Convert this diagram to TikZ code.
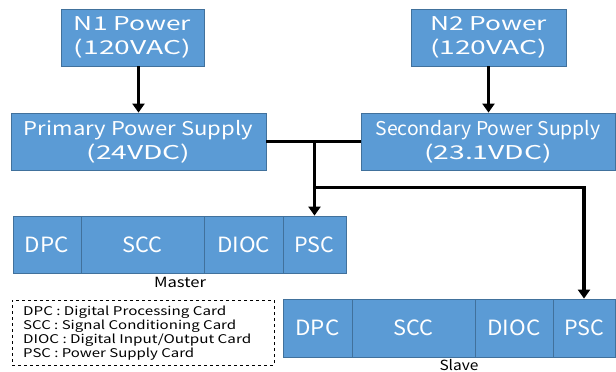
\documentclass[tikz,border=0pt]{standalone}
\usepackage{fontspec}
\usepackage{graphicx}
\setmainfont{Noto Sans CJK KR}
\usetikzlibrary{arrows.meta,calc}
\definecolor{boxblue}{HTML}{5B9BD5}
\definecolor{boxline}{HTML}{41719C}
\newcommand\fitw[2]{\resizebox{#1}{\height}{#2}}
\tikzset{
  blk/.style={draw=boxline,line width=0.8pt,fill=boxblue,text=white,inner sep=0pt,align=center,font=\fontsize{19}{24}\selectfont},
  card/.style={draw=boxline,line width=0.8pt,fill=boxblue,text=white,inner sep=0pt,font=\fontsize{21}{24}\selectfont},
  arr/.style={line width=3.3pt,-{Triangle[width=12pt,length=9pt]}},
  wire/.style={line width=3.3pt},
}
\begin{document}
\begin{tikzpicture}[x=1pt,y=-1pt]
\useasboundingbox (0,0) rectangle (616,372);
% power sources
\node[blk,minimum width=143pt,minimum height=57pt] (N1) at (132.5,37.5) {\fitw{117pt}{N1 Power}\\\fitw{117pt}{(120VAC)}};
\node[blk,minimum width=155pt,minimum height=57pt] (N2) at (488.5,37.5) {\fitw{117pt}{N2 Power}\\\fitw{117pt}{(120VAC)}};
% supplies
\node[blk,minimum width=255pt,minimum height=57pt] (P) at (138.5,141.5) {\fitw{229pt}{Primary Power Supply}\\\fitw{104pt}{(24VDC)}};
\node[blk,minimum width=254pt,minimum height=57pt] (S) at (488,141.5) {\fitw{225pt}{Secondary Power Supply}\\\fitw{128pt}{(23.1VDC)}};
% master cards
\node[card,minimum width=68pt,minimum height=57pt] (mDPC) at (47,244.5) {\fitw{44pt}{DPC}};
\node[card,minimum width=123pt,minimum height=57pt] (mSCC) at (142.5,244.5) {\fitw{40pt}{SCC}};
\node[card,minimum width=79pt,minimum height=57pt] (mDIOC) at (243.5,244.5) {\fitw{53pt}{DIOC}};
\node[card,minimum width=63pt,minimum height=57pt] (mPSC) at (314.5,244.5) {\fitw{40pt}{PSC}};
\node[font=\fontsize{14}{16}\selectfont,inner sep=0pt] (mlab) at (180,282) {\fitw{52pt}{Master}};
% slave cards
\node[card,minimum width=69pt,minimum height=58pt] (sDPC) at (317.5,328) {\fitw{44pt}{DPC}};
\node[card,minimum width=123pt,minimum height=58pt] (sSCC) at (413.5,328) {\fitw{40pt}{SCC}};
\node[card,minimum width=78pt,minimum height=58pt] (sDIOC) at (514,328) {\fitw{53pt}{DIOC}};
\node[card,minimum width=62pt,minimum height=58pt] (sPSC) at (584,328) {\fitw{40pt}{PSC}};
\node[font=\fontsize{14}{16}\selectfont,inner sep=0pt] (slab) at (459,365.5) {\fitw{39pt}{Slave}};
% legend
\node[draw,dashed,line width=0.6pt,minimum width=262pt,minimum height=65pt,inner sep=0pt] (leg) at (143,332.5) {};
\node[anchor=west,align=left,inner sep=0pt,font=\fontsize{12}{14}\selectfont] (legtxt) at (23,333) {\fitw{203pt}{DPC : Digital Processing Card}\\\fitw{213pt}{SCC : Signal Conditioning Card}\\\fitw{228pt}{DIOC : Digital Input/Output Card}\\\fitw{171pt}{PSC : Power Supply Card}};
% connectors
\draw[arr] (N1.south -| P.north) -- (P.north);
\draw[arr] (N2.south) -- (N2.south |- S.north);
\draw[wire] (P.east) -- (S.west);
\coordinate (j1) at (mPSC.north |- P.east);
\coordinate (j2) at ($(mPSC.north |- P.east)+(0,46)$);
\draw[arr] (j1) -- (mPSC.north);
\draw[arr] (j2) -| (sPSC.north);
\end{tikzpicture}
\end{document}
